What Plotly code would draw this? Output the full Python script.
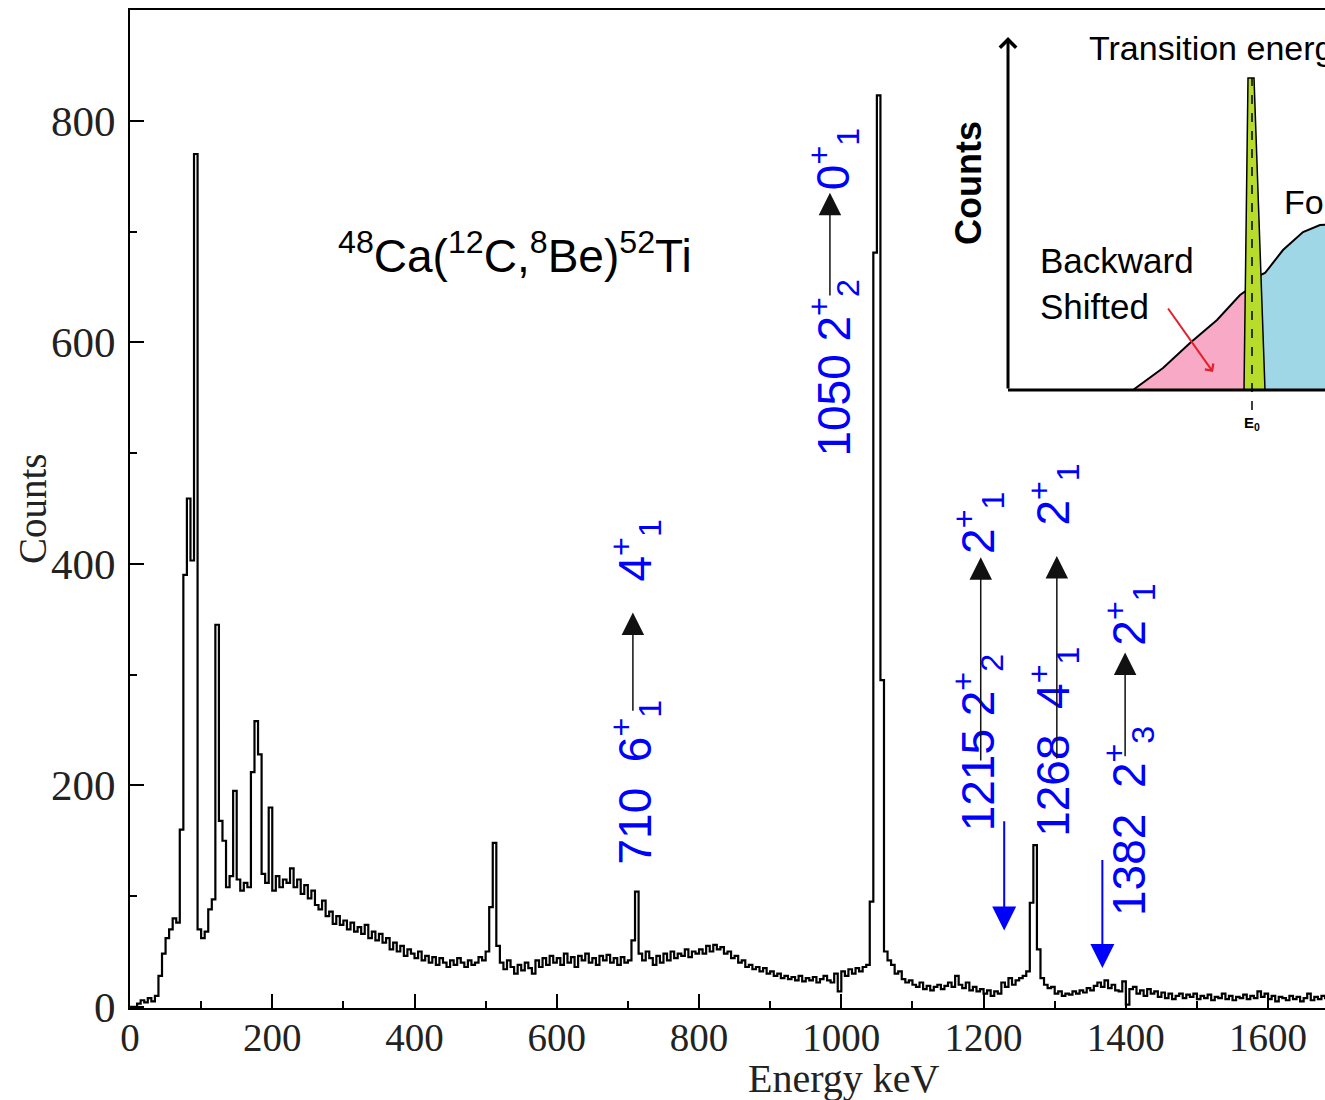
import plotly.graph_objects as go

# ---------------- data ----------------
BIN_WIDTH = 5  # keV
counts = [
    0, 0, 3, 6, 4, 8, 5, 10, 28, 48, 62, 70, 80, 76, 160, 390, 459, 403, 770, 70,
    62, 68, 88, 97, 345, 168, 150, 108, 118, 195, 115, 105, 112, 108, 212, 258, 228, 120, 112, 180,
    105, 118, 108, 115, 112, 125, 108, 115, 102, 110, 98, 105, 92, 88, 96, 82, 86, 75, 82, 74,
    78, 70, 76, 68, 72, 66, 74, 62, 68, 60, 66, 58, 62, 52, 58, 50, 55, 46, 52, 48,
    44, 50, 42, 46, 40, 45, 38, 44, 40, 36, 42, 38, 44, 40, 36, 42, 38, 40, 45, 42,
    50, 90, 148, 55, 40, 34, 42, 36, 30, 38, 33, 40, 35, 30, 42, 36, 44, 38, 46, 40,
    44, 38, 48, 40, 45, 36, 46, 42, 48, 40, 44, 38, 46, 42, 47, 40, 44, 38, 45, 40,
    42, 60, 104, 48, 42, 50, 44, 38, 46, 40, 48, 42, 50, 44, 48, 46, 52, 45, 50, 48,
    52, 48, 55, 50, 56, 52, 54, 48, 50, 44, 46, 40, 42, 36, 38, 34, 36, 32, 35, 30,
    32, 28, 30, 26, 28, 25, 27, 24, 28, 23, 26, 24, 27, 22, 25, 28, 24, 22, 30, 14,
    32, 28, 34, 30, 35, 32, 36, 38, 95, 681, 823, 295, 50, 42, 38, 30, 32, 25, 22, 24,
    20, 18, 22, 16, 19, 15, 18, 20, 16, 19, 22, 18, 28, 20, 17, 22, 15, 18, 14, 16,
    12, 15, 10, 14, 12, 22, 18, 26, 20, 24, 26, 28, 32, 94, 146, 52, 26, 20, 17, 18,
    12, 14, 10, 12, 11, 14, 12, 15, 13, 17, 15, 19, 22, 18, 24, 17, 20, 15, 14, 23,
    2, 16, 18, 12, 15, 10, 16, 12, 14, 9, 13, 8, 12, 7, 10, 12, 8, 11, 9, 12,
    7, 10, 8, 11, 6, 9, 8, 12, 7, 10, 6, 9, 8, 11, 7, 10, 8, 14, 9, 12,
    7, 10, 5, 9, 8, 6, 10, 7, 9, 5, 8, 12, 6, 9, 7, 10, 8, 6, 9, 7,
]
energies = [BIN_WIDTH * i for i in range(len(counts))]

x_ticks = [0, 200, 400, 600, 800, 1000, 1200, 1400, 1600]
y_ticks = [0, 200, 400, 600, 800]

# transition labels: (text, energy, bottom count)
labels_lower = [
    ("710\u00a0\u00a06<sup>+</sup><sub>1</sub>", 711, 127),
    ("1050 2<sup>+</sup><sub>2</sub>", 989, 495),
    ("1215 2<sup>+</sup><sub>2</sub>", 1192, 157),
    ("1268\u00a0\u00a04<sup>+</sup><sub>1</sub>", 1298, 152),
    ("1382\u00a0\u00a02<sup>+</sup><sub>3</sub>", 1404, 80),
]
labels_upper = [
    ("4<sup>+</sup><sub>1</sub>", 711, 382),
    ("0<sup>+</sup><sub>1</sub>", 989, 736),
    ("2<sup>+</sup><sub>1</sub>", 1192, 407),
    ("2<sup>+</sup><sub>1</sub>", 1298, 433),
    ("2<sup>+</sup><sub>1</sub>", 1404, 324),
]
# black transition arrows: (energy, tail count, tip count)
trans_arrows = [(707, 266, 356), (984, 641, 735), (1196, 221, 406), (1303, 223, 407), (1399, 225, 320)]
# blue marker arrows: (energy, tail count, tip count)
blue_arrows = [(1229, 169, 69), (1367, 134, 35)]

# inset sketch (arbitrary units)
pink_x = [125, 155, 182, 209, 232, 242]
pink_y = [0, 22, 47, 70, 95, 102]
blue_x = [246, 257, 275, 295, 312, 330]
blue_y = [112, 117, 140, 158, 165, 166]
green_x = [236, 240, 246, 257, 236]
green_y = [0, 312, 312, 0, 0]
E0 = 244

SERIF = "Liberation Serif, Times New Roman, serif"
SANS = "Liberation Sans, Arial, sans-serif"

fig = go.Figure()

fig.add_trace(go.Scatter(
    x=energies, y=counts, mode="lines", line=dict(color="black", width=2.2, shape="hv"),
    hoverinfo="skip", showlegend=False))

# inset traces
fig.add_trace(go.Scatter(x=pink_x, y=pink_y, xaxis="x2", yaxis="y2", mode="lines",
                         fill="tozeroy", fillcolor="#f7a9c5", line=dict(color="black", width=2),
                         hoverinfo="skip", showlegend=False))
fig.add_trace(go.Scatter(x=blue_x, y=blue_y, xaxis="x2", yaxis="y2", mode="lines",
                         fill="tozeroy", fillcolor="#9fd7e7", line=dict(color="black", width=2),
                         hoverinfo="skip", showlegend=False))
fig.add_trace(go.Scatter(x=green_x, y=green_y, xaxis="x2", yaxis="y2", mode="lines",
                         fill="toself", fillcolor="#b7dc2b", line=dict(color="black", width=1.5),
                         hoverinfo="skip", showlegend=False))

ann = []
# reaction title
ann.append(dict(x=541, y=681, xref="x", yref="y", showarrow=False,
                text="<sup>48</sup>Ca(<sup>12</sup>C,<sup>8</sup>Be)<sup>52</sup>Ti",
                font=dict(family=SANS, size=46, color="black")))
for t, e, c in labels_lower + labels_upper:
    ann.append(dict(x=e, y=c, xref="x", yref="y", showarrow=False, text=t, textangle=-90,
                    xanchor="center", yanchor="bottom",
                    font=dict(family=SANS, size=46, color="#0000ff")))
for e, c0, c1 in trans_arrows:
    ann.append(dict(x=e, y=c1, ax=e, ay=c0, xref="x", yref="y", axref="x", ayref="y",
                    text="", showarrow=True, arrowhead=2, arrowsize=3.0, arrowwidth=1.5,
                    arrowcolor="#111"))
for e, c0, c1 in blue_arrows:
    ann.append(dict(x=e, y=c1, ax=e, ay=c0, xref="x", yref="y", axref="x", ayref="y",
                    text="", showarrow=True, arrowhead=2, arrowsize=2.4, arrowwidth=2,
                    arrowcolor="#0000ff"))
# axis titles
ann.append(dict(x=0, y=0.5, xref="paper", yref="paper", xshift=-98, xanchor="center",
                yanchor="middle", showarrow=False,
                text="Counts", textangle=-90, font=dict(family=SERIF, size=39, color="#222")))
ann.append(dict(x=1004, y=0, xref="x", yref="paper", yshift=-70, xanchor="center",
                yanchor="middle", showarrow=False,
                text="Energy keV", font=dict(family=SERIF, size=40, color="#222")))

# inset annotations
ann.append(dict(x=0, y=353, ax=0, ay=0, xref="x2", yref="y2", axref="x2", ayref="y2",
                text="", showarrow=True, arrowhead=4, arrowsize=1.05, arrowwidth=3,
                arrowcolor="black"))
ann.append(dict(x=205, y=18, ax=159, ay=83, xref="x2", yref="y2", axref="x2", ayref="y2",
                text="", showarrow=True, arrowhead=4, arrowsize=1.0, arrowwidth=2,
                arrowcolor="#e3202b"))
ann.append(dict(x=-40, y=207, xref="x2", yref="y2", showarrow=False, text="<b>Counts</b>",
                textangle=-90, font=dict(family=SANS, size=36, color="black")))
ann.append(dict(x=79, y=342, xref="x2", yref="y2", showarrow=False, xanchor="left",
                text="Transition energy", font=dict(family=SANS, size=34, color="black")))
ann.append(dict(x=274, y=188, xref="x2", yref="y2", showarrow=False, xanchor="left",
                text="Forward", font=dict(family=SANS, size=34, color="black")))
ann.append(dict(x=30, y=107, xref="x2", yref="y2", showarrow=False, xanchor="left", align="left",
                text="Backward<br>Shifted", font=dict(family=SANS, size=35, color="black")))
ann.append(dict(x=E0, y=-33, xref="x2", yref="y2", showarrow=False,
                text="<b>E<sub>0</sub></b>", font=dict(family=SANS, size=15, color="black")))

shapes = [
    dict(type="line", xref="x2", yref="y2", x0=0, x1=330, y0=0, y1=0,
         line=dict(color="black", width=3)),
    dict(type="line", xref="x2", yref="y2", x0=E0, x1=E0, y0=-20, y1=312,
         line=dict(color="black", width=1.5, dash="dash")),
]

fig.update_layout(
    width=1325, height=1100,
    margin=dict(l=130, r=0, t=10, b=92),
    paper_bgcolor="white", plot_bgcolor="white",
    showlegend=False,
    annotations=ann, shapes=shapes,
    xaxis=dict(range=[0, 1680], tickvals=x_ticks, ticks="inside", ticklen=14, tickwidth=1.5,
               tickcolor="black", showline=True, linecolor="black", linewidth=2, mirror=True,
               showgrid=False, zeroline=False, ticklabelstandoff=-6,
               minor=dict(ticks="inside", ticklen=7, tickwidth=1.5, tickcolor="black", dtick=100,
                          tick0=0, showgrid=False),
               tickfont=dict(family=SERIF, size=39, color="#222")),
    yaxis=dict(range=[-1, 900], tickvals=y_ticks, ticks="inside", ticklen=14, tickwidth=1.5,
               tickcolor="black", showline=True, linecolor="black", linewidth=2, mirror=False,
               showgrid=False, zeroline=False, ticklabelstandoff=4,
               minor=dict(ticks="inside", ticklen=7, tickwidth=1.5, tickcolor="black", dtick=100,
                          tick0=0, showgrid=False),
               tickfont=dict(family=SERIF, size=43, color="#222")),
    xaxis2=dict(domain=[0.6929, 1.0], range=[-50, 317], anchor="y2", visible=False),
    yaxis2=dict(domain=[0.5691, 0.985], range=[-50, 365], anchor="x2", visible=False),
)

fig.write_html("out.html")
